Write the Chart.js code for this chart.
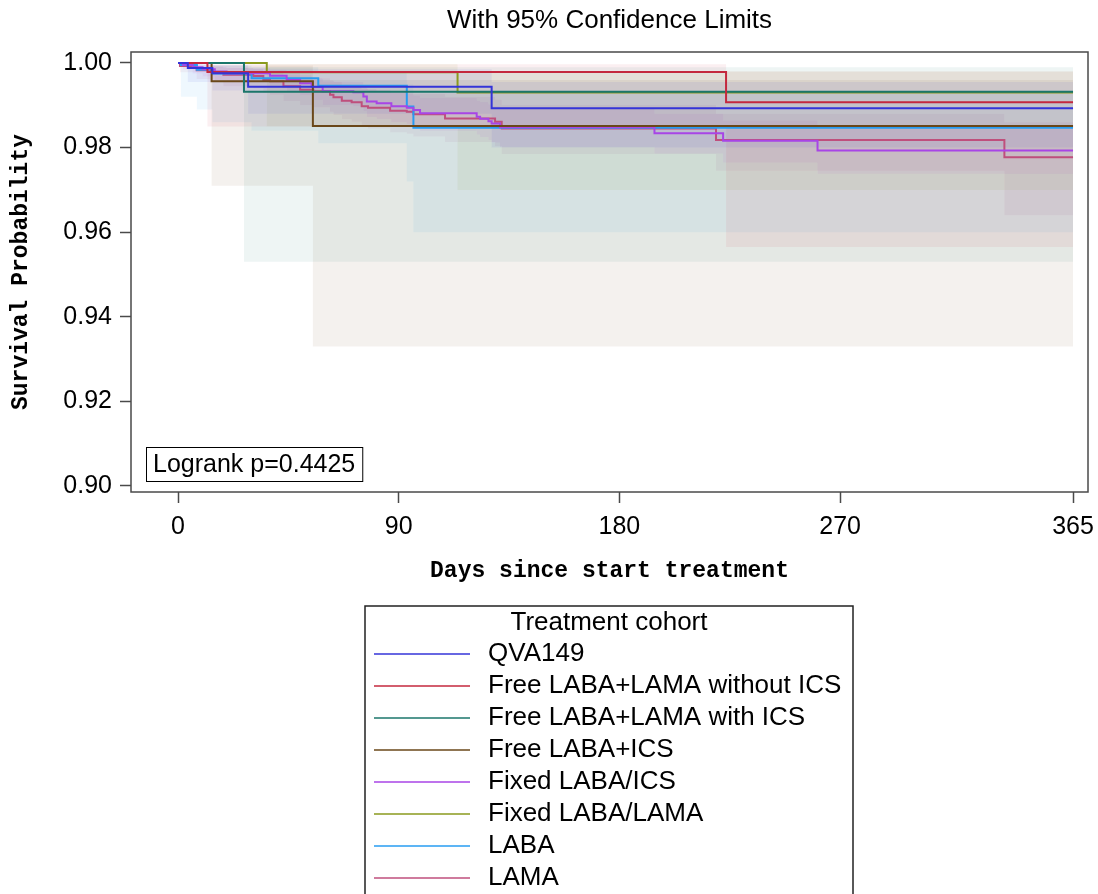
<!DOCTYPE html>
<html>
<head>
<meta charset="utf-8">
<script src="https://cdn.jsdelivr.net/npm/chart.js@4.4.1/dist/chart.umd.min.js"></script>
<style>
  html, body { margin: 0; padding: 0; background: #fff; }
  #wrap { width: 1098px; height: 894px; position: relative; }
</style>
</head>
<body>
<div id="wrap"><canvas id="km_chart"></canvas></div>
<script>
// axis ticks
const xTicks = [0, 90, 180, 270, 365];
const yTicks = [0.90, 0.92, 0.94, 0.96, 0.98, 1.00];

const cohortNames = [
    'QVA149',
    'Free LABA+LAMA without ICS',
    'Free LABA+LAMA with ICS',
    'Free LABA+ICS',
    'Fixed LABA/ICS',
    'Fixed LABA/LAMA',
    'LABA',
    'LAMA'
];
const cohortColors = ['#3434d8', '#c4283e', '#1b766b', '#6a4719', '#a845e6', '#8a9a1e', '#279cf2', '#bf4f7c'];

// Kaplan-Meier estimates with 95% limits, one set per cohort
const qvaDays  = [0, 4, 14, 28.6, 127.9, 365];
const qvaSurv  = [1, 0.9988, 0.9976, 0.9944, 0.9893, 0.9893];
const qvaLower = [1, 0.9955, 0.9935, 0.9880, 0.9800, 0.9800];
const qvaUpper = [1, 0.9998, 0.9995, 0.9985, 0.9955, 0.9955];

const freeNoIcsDays  = [0, 12, 223.5, 365];
const freeNoIcsSurv  = [1, 0.9979, 0.9907, 0.9907];
const freeNoIcsLower = [1, 0.9850, 0.9565, 0.9565];
const freeNoIcsUpper = [1, 0.9997, 0.9980, 0.9980];

const freeIcsDays  = [0, 26.9, 365];
const freeIcsSurv  = [1, 0.9932, 0.9932];
const freeIcsLower = [1, 0.9530, 0.9530];
const freeIcsUpper = [1, 0.9990, 0.9990];

const labaIcsDays  = [0, 13.7, 55, 365];
const labaIcsSurv  = [1, 0.9957, 0.9851, 0.9851];
const labaIcsLower = [1, 0.9710, 0.9330, 0.9330];
const labaIcsUpper = [1, 0.9994, 0.9960, 0.9960];

const fixedIcsDays  = [0, 2, 6, 10, 15, 19.8, 37.5, 44.3, 49.8, 54.5, 59, 71.5, 75.6, 77, 81, 87, 93.3, 96, 98.7, 121.8, 123.2, 126.6, 127.9, 131.3, 194.3, 222.3, 260.8, 365];
const fixedIcsSurv  = [1, 0.9996, 0.9990, 0.9985, 0.9980, 0.9976, 0.9970, 0.9960, 0.9952, 0.9943, 0.9933, 0.9931, 0.9921, 0.9909, 0.9905, 0.9898, 0.9894, 0.9889, 0.9881, 0.9873, 0.9868, 0.9862, 0.9857, 0.9848, 0.9834, 0.9816, 0.9793, 0.9793];
const fixedIcsLower = [1, 0.9985, 0.9975, 0.9968, 0.9960, 0.9955, 0.9946, 0.9934, 0.9924, 0.9913, 0.9901, 0.9898, 0.9887, 0.9873, 0.9868, 0.9860, 0.9855, 0.9849, 0.9840, 0.9831, 0.9825, 0.9818, 0.9812, 0.9802, 0.9786, 0.9765, 0.9738, 0.9738];
const fixedIcsUpper = [1, 0.9999, 0.9997, 0.9994, 0.9991, 0.9988, 0.9984, 0.9977, 0.9971, 0.9964, 0.9956, 0.9955, 0.9948, 0.9938, 0.9935, 0.9930, 0.9927, 0.9923, 0.9917, 0.9911, 0.9907, 0.9902, 0.9898, 0.9891, 0.9880, 0.9864, 0.9844, 0.9844];

const fixedLamaDays  = [0, 36.2, 114, 365];
const fixedLamaSurv  = [1, 0.9978, 0.9930, 0.9930];
const fixedLamaLower = [1, 0.9850, 0.9700, 0.9700];
const fixedLamaUpper = [1, 0.9997, 0.9980, 0.9980];

const labaDays  = [0, 1.2, 7.7, 14, 30, 57.2, 93.3, 96, 365];
const labaSurv  = [1, 0.9995, 0.9984, 0.9975, 0.9964, 0.9946, 0.9897, 0.9847, 0.9847];
const labaLower = [1, 0.9920, 0.9890, 0.9860, 0.9840, 0.9810, 0.9720, 0.9600, 0.9600];
const labaUpper = [1, 0.9999, 0.9996, 0.9994, 0.9990, 0.9980, 0.9950, 0.9930, 0.9930];

const lamaDays  = [0, 0.8, 7.6, 14.4, 18.5, 30.7, 34.8, 37.5, 43, 49.8, 55.2, 62, 63.4, 66.8, 70.8, 74.9, 77.5, 86.5, 93.3, 96, 108.9, 129.3, 132, 219.4, 337, 365];
const lamaSurv  = [1, 0.9993, 0.9983, 0.9979, 0.9972, 0.9969, 0.9960, 0.9957, 0.9945, 0.9937, 0.9933, 0.9925, 0.9919, 0.9911, 0.9907, 0.9898, 0.9894, 0.9887, 0.9885, 0.9879, 0.9869, 0.9861, 0.9845, 0.9818, 0.9777, 0.9777];
const lamaLower = [1, 0.9978, 0.9962, 0.9955, 0.9945, 0.9940, 0.9929, 0.9925, 0.9910, 0.9900, 0.9895, 0.9885, 0.9877, 0.9867, 0.9861, 0.9850, 0.9845, 0.9836, 0.9833, 0.9826, 0.9813, 0.9803, 0.9785, 0.9745, 0.9640, 0.9640];
const lamaUpper = [1, 0.9999, 0.9994, 0.9992, 0.9988, 0.9986, 0.9981, 0.9979, 0.9971, 0.9966, 0.9964, 0.9959, 0.9955, 0.9949, 0.9946, 0.9940, 0.9937, 0.9932, 0.9931, 0.9927, 0.9920, 0.9914, 0.9901, 0.9880, 0.9860, 0.9860];

const chartTitle = 'With 95% Confidence Limits';
const logrankText = 'Logrank p=0.4425';
const legendTitle = 'Treatment cohort';

const cohorts = [
    { days: qvaDays, surv: qvaSurv, lower: qvaLower, upper: qvaUpper },
    { days: freeNoIcsDays, surv: freeNoIcsSurv, lower: freeNoIcsLower, upper: freeNoIcsUpper },
    { days: freeIcsDays, surv: freeIcsSurv, lower: freeIcsLower, upper: freeIcsUpper },
    { days: labaIcsDays, surv: labaIcsSurv, lower: labaIcsLower, upper: labaIcsUpper },
    { days: fixedIcsDays, surv: fixedIcsSurv, lower: fixedIcsLower, upper: fixedIcsUpper },
    { days: fixedLamaDays, surv: fixedLamaSurv, lower: fixedLamaLower, upper: fixedLamaUpper },
    { days: labaDays, surv: labaSurv, lower: labaLower, upper: labaUpper },
    { days: lamaDays, surv: lamaSurv, lower: lamaLower, upper: lamaUpper }
];

const SANS = '"Liberation Sans", Arial, sans-serif';
const MONO = '"Liberation Mono", "DejaVu Sans Mono", monospace';

function toPoints(days, vals) {
    return days.map(function (d, i) { return { x: d, y: vals[i] }; });
}

function tint(hex, alpha) {
    var n = parseInt(hex.slice(1), 16);
    return 'rgba(' + (n >> 16) + ',' + ((n >> 8) & 255) + ',' + (n & 255) + ',' + alpha + ')';
}

var bandSets = [];
var lineSets = [];
cohorts.forEach(function (c, i) {
    // confidence band: upper edge, then lower edge filled back to it
    bandSets.push({
        label: cohortNames[i] + ' UCL',
        data: toPoints(c.days, c.upper),
        stepped: true,
        borderColor: 'rgba(0,0,0,0)',
        borderWidth: 0,
        pointRadius: 0,
        fill: false,
        order: 2
    });
    bandSets.push({
        label: cohortNames[i] + ' LCL',
        data: toPoints(c.days, c.lower),
        stepped: true,
        borderColor: 'rgba(0,0,0,0)',
        borderWidth: 0,
        pointRadius: 0,
        fill: '-1',
        backgroundColor: tint(cohortColors[i], 0.075),
        order: 2
    });
    lineSets.push({
        label: cohortNames[i],
        data: toPoints(c.days, c.surv),
        stepped: true,
        borderColor: cohortColors[i],
        borderWidth: 2,
        pointRadius: 0,
        fill: false,
        order: 1,
        isCurve: true
    });
});

// frame, title, logrank note and the cohort key
const decorations = {
    id: 'decorations',
    afterDraw: function (chart) {
        var ctx = chart.ctx;
        var a = chart.chartArea;
        ctx.save();

        ctx.strokeStyle = '#4a4a4a';
        ctx.lineWidth = 1.5;
        ctx.strokeRect(a.left, a.top, a.right - a.left, a.bottom - a.top);

        ctx.fillStyle = '#000';
        ctx.font = '26px ' + SANS;
        ctx.textAlign = 'center';
        ctx.textBaseline = 'middle';
        ctx.fillText(chartTitle, (a.left + a.right) / 2, 21);

        // logrank box in the lower left corner
        ctx.font = '25px ' + SANS;
        ctx.textAlign = 'left';
        var tw = ctx.measureText(logrankText).width;
        var bx = a.left + 15, by = a.bottom - 45;
        ctx.strokeStyle = '#000';
        ctx.lineWidth = 1;
        ctx.strokeRect(bx + 0.5, by + 0.5, tw + 14, 34);
        ctx.fillText(logrankText, bx + 7, by + 18);

        // legend
        var lx = 365, ly = 606, lw = 488;
        ctx.strokeStyle = '#222';
        ctx.lineWidth = 1.5;
        ctx.strokeRect(lx, ly, lw, 320);
        ctx.font = '26px ' + SANS;
        ctx.textAlign = 'center';
        ctx.fillText(legendTitle, lx + lw / 2, ly + 17);
        ctx.textAlign = 'left';
        var row = 0;
        chart.data.datasets.forEach(function (ds) {
            if (!ds.isCurve) return;
            var y = ly + 48 + row * 32;
            ctx.strokeStyle = ds.borderColor;
            ctx.lineWidth = 1.3;
            ctx.beginPath();
            ctx.moveTo(lx + 9, y);
            ctx.lineTo(lx + 105, y);
            ctx.stroke();
            ctx.fillText(ds.label, lx + 123, y);
            row++;
        });

        ctx.restore();
    }
};

var ctx = document.getElementById('km_chart').getContext('2d');
window.kmChart = new Chart(ctx, {
    type: 'line',
    data: { datasets: bandSets.concat(lineSets) },
    plugins: [decorations],
    options: {
        responsive: true,
        maintainAspectRatio: false,
        animation: false,
        layout: { padding: { left: 0, top: 52, right: 10, bottom: 302 } },
        plugins: {
            legend: { display: false },
            tooltip: { enabled: false },
            title: { display: false }
        },
        scales: {
            x: {
                type: 'linear',
                min: -19.17,
                max: 371.1,
                afterBuildTicks: function (s) { s.ticks = xTicks.map(function (v) { return { value: v }; }); },
                afterFit: function (s) { s.height = 100; s.paddingLeft = 0; s.paddingRight = 0; },
                border: { display: false },
                grid: { drawOnChartArea: false, drawTicks: true, tickLength: 11, tickColor: '#4a4a4a', tickWidth: 1.5 },
                ticks: {
                    color: '#000',
                    font: { family: SANS, size: 25 },
                    padding: 9,
                    maxRotation: 0,
                    autoSkip: false,
                    callback: function (v) { return String(v); }
                },
                title: {
                    display: true,
                    text: 'Days since start treatment',
                    color: '#000',
                    font: { family: MONO, size: 23, weight: 'bold' },
                    padding: { top: 0, bottom: 7 }
                }
            },
            y: {
                type: 'linear',
                min: 0.89858,
                max: 1.0026,
                afterBuildTicks: function (s) { s.ticks = yTicks.map(function (v) { return { value: v }; }); },
                afterFit: function (s) { s.width = 131; s.paddingTop = 0; s.paddingBottom = 0; },
                border: { display: false },
                grid: { drawOnChartArea: false, drawTicks: true, tickLength: 11, tickColor: '#4a4a4a', tickWidth: 1.5 },
                ticks: {
                    color: '#000',
                    font: { family: SANS, size: 25 },
                    padding: 8,
                    autoSkip: false,
                    callback: function (v) { return Number(v).toFixed(2); }
                },
                title: {
                    display: true,
                    text: 'Survival Probability',
                    color: '#000',
                    font: { family: MONO, size: 23, weight: 'bold' },
                    padding: { top: 7, bottom: 0 }
                }
            }
        }
    }
});
</script>
</body>
</html>
